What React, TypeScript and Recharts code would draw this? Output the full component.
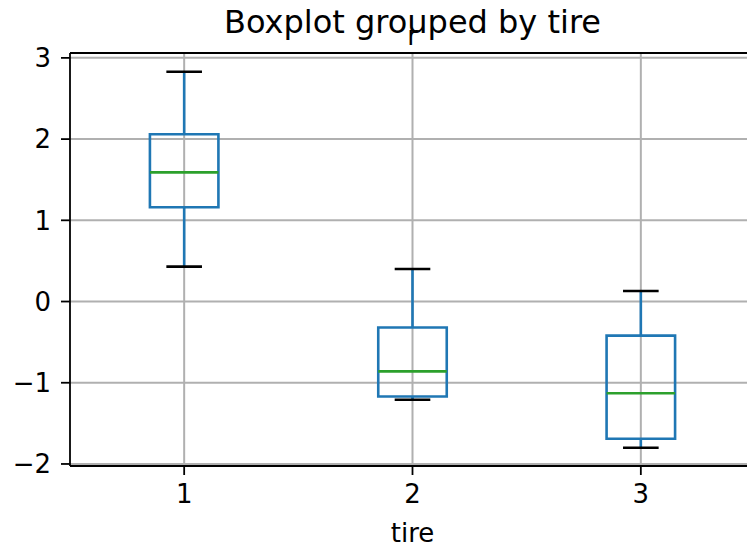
import { ComposedChart, XAxis, YAxis, CartesianGrid, ReferenceArea, ReferenceLine, Scatter } from 'recharts'

const categories = ['1', '2', '3']
const positions = [1, 2, 3]
const whiskerLow = [0.43, -1.21, -1.8]
const q1 = [1.16, -1.17, -1.69]
const median = [1.59, -0.86, -1.13]
const q3 = [2.06, -0.32, -0.42]
const whiskerHigh = [2.83, 0.4, 0.13]
const yTicks = [-2, -1, 0, 1, 2, 3]
const yMin = -2.025
const yMax = 3.06

const font = 'DejaVu Sans, sans-serif'
const blue = '#1f77b4'
const green = '#2ca02c'
const tick = { fontSize: 26, fill: '#000', fontFamily: font }
const lw = 2.6

const rows = positions.map((p, i) => ({ pos: p, median: median[i] }))
const boxHalf = 0.15
const capHalf = 0.078

export default function App() {
  return (
    <div style={{ position: 'fixed', left: 0, top: 0, width: 747, height: 548, overflow: 'hidden', background: '#fff' }}>
      <ComposedChart width={760} height={548} data={rows} margin={{ top: 53, right: 5, left: 0, bottom: 0 }}>
        <CartesianGrid stroke="#b0b0b0" strokeWidth={2} verticalValues={positions} horizontalValues={yTicks} />
        <XAxis
          dataKey="pos"
          type="number"
          domain={[0.5, 3.5]}
          ticks={positions}
          tickFormatter={(v) => categories[positions.indexOf(v)] ?? ''}
          height={82}
          tick={tick}
          tickSize={9}
          tickMargin={10}
          stroke="#000"
          strokeWidth={1.8}
          allowDataOverflow
        />
        <YAxis
          type="number"
          domain={[yMin, yMax]}
          ticks={yTicks}
          tickFormatter={(v) => (v < 0 ? '\u2212' + Math.abs(v) : String(v))}
          width={70}
          tick={tick}
          tickSize={9}
          tickMargin={10}
          stroke="#000"
          strokeWidth={1.8}
          allowDataOverflow
        />
        <ReferenceLine y={yMax} stroke="#000" strokeWidth={1.8} />
        {positions.map((p, i) => (
          <ReferenceLine key={'wl' + i} segment={[{ x: p, y: whiskerLow[i] }, { x: p, y: q1[i] }]} stroke={blue} strokeWidth={lw} />
        ))}
        {positions.map((p, i) => (
          <ReferenceLine key={'wh' + i} segment={[{ x: p, y: q3[i] }, { x: p, y: whiskerHigh[i] }]} stroke={blue} strokeWidth={lw} />
        ))}
        {positions.map((p, i) => (
          <ReferenceArea key={'box' + i} x1={p - boxHalf} x2={p + boxHalf} y1={q1[i]} y2={q3[i]} fill="none" fillOpacity={0} stroke={blue} strokeWidth={lw} />
        ))}
        {positions.map((p, i) => (
          <ReferenceLine key={'med' + i} segment={[{ x: p - boxHalf, y: median[i] }, { x: p + boxHalf, y: median[i] }]} stroke={green} strokeWidth={lw} />
        ))}
        {positions.map((p, i) => (
          <ReferenceLine key={'cl' + i} segment={[{ x: p - capHalf, y: whiskerLow[i] }, { x: p + capHalf, y: whiskerLow[i] }]} stroke="#000" strokeWidth={lw} />
        ))}
        {positions.map((p, i) => (
          <ReferenceLine key={'ch' + i} segment={[{ x: p - capHalf, y: whiskerHigh[i] }, { x: p + capHalf, y: whiskerHigh[i] }]} stroke="#000" strokeWidth={lw} />
        ))}
        <Scatter dataKey="median" shape={() => <g />} isAnimationActive={false} />
      </ComposedChart>
      <svg width={747} height={548} style={{ position: 'absolute', left: 0, top: 0, pointerEvents: 'none' }}>
        <text x={412.5} y={33} textAnchor="middle" fontFamily={font} fontSize={32} fill="#000">
          Boxplot grouped by tire
        </text>
        <text x={412.5} y={45} textAnchor="middle" fontFamily={font} fontSize={26} fill="#000">
          r
        </text>
        <text x={412.5} y={541.5} textAnchor="middle" fontFamily={font} fontSize={26} fill="#000">
          tire
        </text>
      </svg>
    </div>
  )
}
